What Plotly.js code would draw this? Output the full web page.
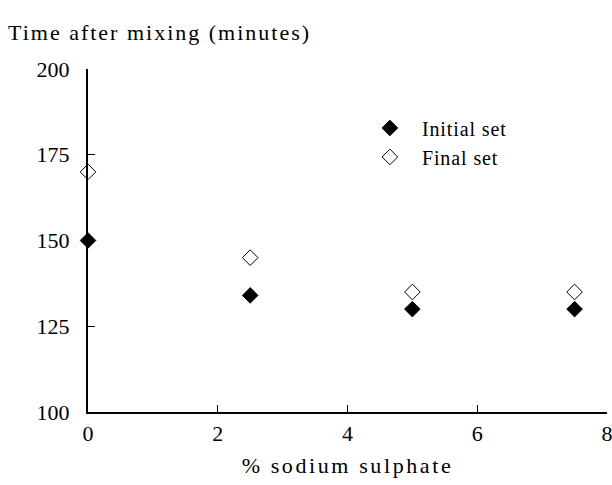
<!DOCTYPE html>
<html><head><meta charset="utf-8">
<script src="https://cdn.plot.ly/plotly-3.0.1.min.js"></script>
<style>
body{margin:0;padding:0;background:#fff}#chart{width:612px;height:485px}
#chart .annotation-text{letter-spacing:2px}
#chart .xtitle{letter-spacing:2.6px}
#chart .legendtext{letter-spacing:0.9px}
#chart .legend, #chart .legend *{clip-path:none !important}
</style>
</head><body><div id="chart"></div>
<script>
const sodiumSulphate = [0, 2.5, 5, 7.5];
const initialSet = [150, 134, 130, 130];
const finalSet = [170, 145, 135, 135];
const xTicks = [0, 2, 4, 6, 8];
const yTicks = [100, 125, 150, 175, 200];
const font = {family: '"Liberation Serif", "Times New Roman", serif', size: 22, color: '#000'};
const legendFont = {family: '"Liberation Serif", "Times New Roman", serif', size: 20, color: '#000'};

const traces = [
  {x: sodiumSulphate, y: initialSet, name: 'Initial set', type: 'scatter', mode: 'markers',
   marker: {symbol: 'diamond', size: 12, color: '#000', line: {color: '#000', width: 1}}, cliponaxis: false},
  {x: sodiumSulphate, y: finalSet, name: 'Final set', type: 'scatter', mode: 'markers',
   marker: {symbol: 'diamond-open', size: 12, color: '#000', line: {color: '#000', width: 1}}, cliponaxis: false}
];
const layout = {
  width: 612, height: 485,
  margin: {l: 88, r: 5, t: 69, b: 73},
  paper_bgcolor: '#fff', plot_bgcolor: '#fff',
  font: font,
  showlegend: true,
  legend: {x: 0.52, y: 0.885, xanchor: 'left', yanchor: 'top', bgcolor: 'rgba(0,0,0,0)',
           font: legendFont, tracegroupgap: 0, itemwidth: 54},
  xaxis: {range: [0, 8], tickvals: xTicks, ticktext: xTicks.map(String), ticks: 'inside', ticklen: 7,
          tickwidth: 1, tickcolor: '#000', showline: true, linewidth: 2, linecolor: '#000',
          showgrid: false, zeroline: false, ticklabelstandoff: 1, ticklabeloverflow: 'allow', tickfont: font,
          title: {text: '% sodium sulphate', font: font, standoff: 12}},
  yaxis: {range: [100, 200], tickvals: yTicks, ticktext: yTicks.map(String), ticks: 'inside', ticklen: 7,
          tickwidth: 1, tickcolor: '#000', showline: true, linewidth: 2, linecolor: '#000',
          showgrid: false, zeroline: false, ticklabelstandoff: 12, ticklabeloverflow: 'allow', tickfont: font},
  annotations: [{text: 'Time after mixing (minutes)', xref: 'paper', yref: 'paper', x: 0.1387, y: 1.105,
                 xanchor: 'center', yanchor: 'middle', showarrow: false, font: font}]
};
Plotly.newPlot('chart', traces, layout, {displayModeBar: false, staticPlot: true});
</script></body></html>
